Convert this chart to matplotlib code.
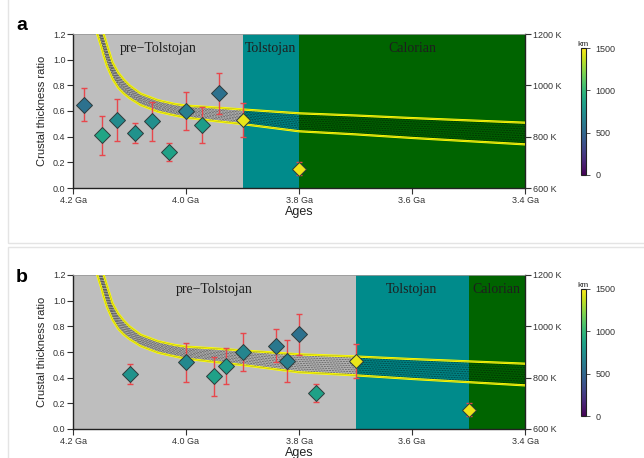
import numpy as np
import matplotlib
matplotlib.use("Agg")
import matplotlib.pyplot as plt
from matplotlib.patches import Rectangle
from matplotlib.colors import Normalize
from matplotlib.cm import ScalarMappable

# model band (upper / lower bound)
curve_age = [4.165, 4.16, 4.155, 4.15, 4.145, 4.14, 4.13, 4.12, 4.11, 4.10, 4.08, 4.05,
             4.02, 4.00, 3.95, 3.90, 3.80, 3.70, 3.60, 3.50, 3.40]
curve_low = [1.40, 1.24, 1.17, 1.10, 1.02, 0.95, 0.85, 0.78, 0.735, 0.70, 0.645, 0.595,
             0.565, 0.548, 0.522, 0.498, 0.442, 0.418, 0.39, 0.365, 0.34]
curve_high = [1.60, 1.45, 1.35, 1.26, 1.19, 1.12, 0.98, 0.90, 0.845, 0.80, 0.735, 0.685,
              0.655, 0.642, 0.628, 0.612, 0.582, 0.565, 0.545, 0.527, 0.509]

period_names = ["pre\u2212Tolstojan", "Tolstojan", "Calorian"]
period_colors = ["#bebebe", "#008b8b", "#006400"]
a_bounds = [4.2, 3.9, 3.8, 3.4]
b_bounds = [4.2, 3.7, 3.5, 3.4]

a_age = [4.18, 4.149, 4.122, 4.09, 4.06, 4.03, 4.0, 3.971, 3.942, 3.90, 3.80]
a_ratio = [0.65, 0.41, 0.53, 0.43, 0.52, 0.28, 0.60, 0.49, 0.74, 0.53, 0.15]
a_lo = [0.52, 0.26, 0.37, 0.35, 0.37, 0.21, 0.45, 0.35, 0.58, 0.40, 0.10]
a_hi = [0.78, 0.56, 0.69, 0.51, 0.67, 0.35, 0.75, 0.63, 0.90, 0.66, 0.20]
a_km = [560, 880, 720, 760, 740, 860, 640, 830, 560, 1450, 1450]
a_dashed = [True] * 11

b_age = [4.10, 4.00, 3.95, 3.93, 3.90, 3.841, 3.821, 3.80, 3.77, 3.70, 3.50]
b_ratio = [0.43, 0.52, 0.41, 0.49, 0.60, 0.65, 0.53, 0.74, 0.28, 0.53, 0.15]
b_lo = [0.35, 0.37, 0.26, 0.35, 0.45, 0.52, 0.37, 0.58, 0.21, 0.40, 0.10]
b_hi = [0.51, 0.67, 0.56, 0.63, 0.75, 0.78, 0.69, 0.90, 0.35, 0.66, 0.20]
b_km = [770, 700, 850, 820, 680, 600, 640, 560, 860, 1450, 1450]
b_dashed = [False, True, False, False, True, True, False, True, False, True, False]

x_ticks = [4.2, 4.0, 3.8, 3.6, 3.4]
temp_ticks = [600, 800, 1000, 1200]
km_ticks = [0, 500, 1000, 1500]

sans = "Liberation Sans"
serif = "Liberation Serif"
norm = Normalize(0, 1500)
cmap = plt.cm.viridis
err_col = "#e8474c"


def draw_panel(ax, bounds, age, ratio, lo, hi, km, dashed):
    for i in range(3):
        # each span runs to the right end, the next one covers it (no seams)
        ax.axvspan(bounds[i], bounds[-1], color=period_colors[i], lw=0, zorder=0)
        ax.text((bounds[i] + bounds[i + 1]) / 2, 1.09, period_names[i], ha="center",
                va="center", family=serif, fontsize=10, color="#1e1e1e", zorder=6)

    # hatched band between the two bounds
    cx = np.array(curve_age)
    low = np.array(curve_low)
    high = np.array(curve_high)
    ax.fill_between(cx, low, high, color="black", alpha=0.08, lw=0, zorder=1)
    for f in np.linspace(0.08, 0.92, 9):
        ax.plot(cx, low + f * (high - low), color="black", alpha=0.42, lw=0.6,
                dashes=(2.2, 1.2), zorder=2)
    for c in (low, high):
        ax.plot(cx, c, color="#ffff00", lw=1.6, zorder=3)
        ax.plot(cx, c, color="#9a9a30", lw=0.3, zorder=3)

    for i in range(len(age)):
        ax.errorbar(age[i], ratio[i], yerr=[[ratio[i] - lo[i]], [hi[i] - ratio[i]]],
                    fmt="none", ecolor=err_col, elinewidth=1.0, capsize=2.5,
                    capthick=1.0, zorder=4,
                    linestyle=(0, (3, 1.5)) if dashed[i] else "-")
    for i in range(len(age)):
        ax.plot(age[i], ratio[i], marker="D", ms=7.4 if km[i] > 1200 else 7.8,
                mfc=cmap(norm(km[i])), mec="#2e3b3b", mew=0.7, ls="none", zorder=5)

    ax.set_xlim(4.2, 3.4)
    ax.set_ylim(0, 1.2)
    ax.set_xticks(x_ticks)
    ax.set_xticklabels(["%.1f Ga" % t for t in x_ticks])
    ax.set_yticks(np.arange(0, 1.21, 0.2))
    ax.set_yticklabels(["%.1f" % t for t in np.arange(0, 1.21, 0.2)])
    ax.set_xlabel("Ages", family=sans, fontsize=9, color="#222", labelpad=1)
    ax.set_ylabel("Crustal thickness ratio", family=sans, fontsize=8, color="#222",
                  labelpad=4)
    ax.tick_params(labelsize=6.5, length=4, width=0.8, color="#333", labelcolor="#333",
                   pad=1.5)
    for lab in ax.get_xticklabels() + ax.get_yticklabels():
        lab.set_family(sans)
    for s in ("left", "bottom", "right"):
        ax.spines[s].set_color("#222")
        ax.spines[s].set_linewidth(1.0)
    ax.spines["top"].set_color("#9a9a9a")
    ax.spines["top"].set_linewidth(0.6)

    ax2 = ax.twinx()
    ax2.set_ylim(600, 1200)
    ax2.set_yticks(temp_ticks)
    ax2.set_yticklabels(["%d K" % t for t in temp_ticks], family=sans)
    ax2.tick_params(labelsize=6.5, length=4, width=0.8, color="#333", labelcolor="#333",
                    pad=1.5)
    for s in ax2.spines.values():
        s.set_visible(False)


def draw_colorbar(cax):
    cb = plt.colorbar(ScalarMappable(norm=norm, cmap=cmap), cax=cax, ticks=km_ticks)
    cb.outline.set_linewidth(0.8)
    cb.outline.set_edgecolor("#222")
    cax.tick_params(labelsize=6.5, length=3, width=0.6, color="#333", labelcolor="#333",
                    pad=4)
    for lab in cax.get_yticklabels():
        lab.set_family(sans)
    cax.set_title("km", family=sans, fontsize=6, color="#222", pad=1.5)


fig = plt.figure(figsize=(6.44, 4.58), dpi=100)
W, H = 644.0, 458.0

# panel frames
fig.patches.append(Rectangle((8 / W, 1 - 243 / H), 1.0, 243 / H + 0.02,
                             transform=fig.transFigure, fill=False, ec="#e4e4e4",
                             lw=1.0, zorder=0))
fig.patches.append(Rectangle((8 / W, -0.02), 1.0, 1 - 247 / H + 0.02,
                             transform=fig.transFigure, fill=False, ec="#e4e4e4",
                             lw=1.0, zorder=0))

ax_a = fig.add_axes([73 / W, 1 - 188 / H, 452 / W, 154 / H])
ax_b = fig.add_axes([73 / W, 1 - 429 / H, 452 / W, 154 / H])
draw_panel(ax_a, a_bounds, a_age, a_ratio, a_lo, a_hi, a_km, a_dashed)
draw_panel(ax_b, b_bounds, b_age, b_ratio, b_lo, b_hi, b_km, b_dashed)

cax_a = fig.add_axes([581 / W, 1 - 175 / H, 5 / W, 127 / H])
cax_b = fig.add_axes([581 / W, 1 - 416 / H, 5 / W, 127 / H])
draw_colorbar(cax_a)
draw_colorbar(cax_b)

fig.text(22 / W, 1 - 25 / H, "a", family=sans, fontsize=14, fontweight="bold",
         ha="center", va="center")
fig.text(22 / W, 1 - 277 / H, "b", family=sans, fontsize=14, fontweight="bold",
         ha="center", va="center")

fig.savefig("out.png", dpi=100)
